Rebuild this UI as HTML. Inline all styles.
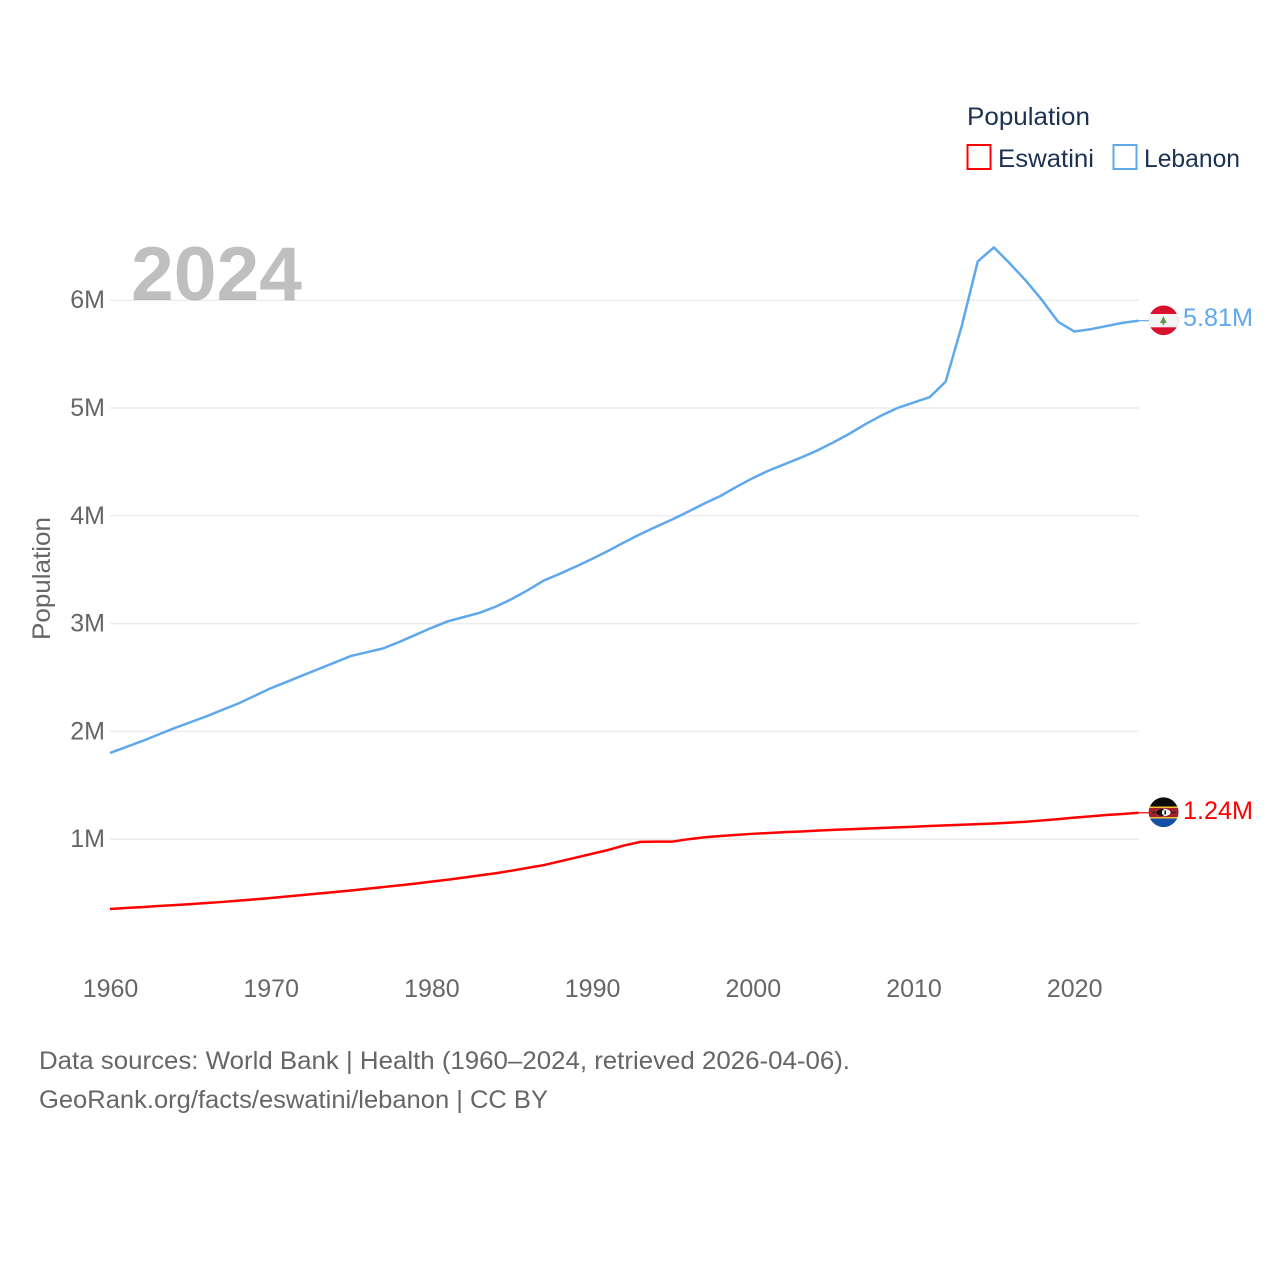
<!DOCTYPE html>
<html lang="en">
<head>
<meta charset="utf-8">
<title>Population: Eswatini and Lebanon</title>
<style>
html,body{margin:0;padding:0;background:#fff;width:1280px;height:1280px;overflow:hidden}
svg{display:block}
text{font-family:"Liberation Sans",sans-serif}
</style>
</head>
<body>
<svg id="chart" xmlns="http://www.w3.org/2000/svg" width="1280" height="1280" viewBox="0 0 1280 1280">
  <rect x="0" y="0" width="1280" height="1280" fill="#ffffff"/>
  <g id="grid"></g>
  <g id="yticks"></g>
  <g id="xticks"></g>
  <text x="131" y="300" font-size="76" font-weight="700" fill="#bfbfbf" textLength="171" lengthAdjust="spacingAndGlyphs" style="mix-blend-mode:multiply">2024</text>
  <text transform="translate(50,640) rotate(-90)" font-size="25" fill="#666666" textLength="123" lengthAdjust="spacingAndGlyphs">Population</text>
  <g id="series"></g>

  <g>
    <clipPath id="clip-lb"><circle cx="1163.600" cy="320.300" r="14.800"/></clipPath>
    <g clip-path="url(#clip-lb)">
      <rect x="1148" y="304" width="32" height="33" fill="#d8112f"/>
      <rect x="1148" y="314" width="32" height="13.300" fill="#f4f4f4"/>
      <path d="M1163.400 316l3.400 7h-2.600v2h-1.600v-2h-2.600z" fill="#5f9e4d"/>
    </g>
  </g>
  <g>
    <clipPath id="clip-sz"><circle cx="1163.600" cy="812.200" r="14.800"/></clipPath>
    <g clip-path="url(#clip-sz)">
      <rect x="1148" y="796" width="32" height="33" fill="#0b0b0b"/>
      <rect x="1148" y="806.500" width="32" height="1.500" fill="#f2c230"/>
      <rect x="1148" y="808" width="32" height="9" fill="#a5202c"/>
      <rect x="1148" y="817" width="32" height="1.500" fill="#f2c230"/>
      <rect x="1148" y="818.500" width="32" height="10.500" fill="#1450a8"/>
      <rect x="1152" y="811.800" width="24" height="1.400" fill="#2a2a2a"/>
      <ellipse cx="1163.500" cy="812.500" rx="7" ry="3.800" fill="#f5f5f5"/>
      <path d="M1163.500 808.700a7 3.800 0 0 0 0 7.600z" fill="#111111"/>
      <rect x="1162" y="810.500" width="1.500" height="4" fill="#f5f5f5"/>
      <rect x="1164.500" y="810.500" width="1.500" height="4" fill="#111111"/>
    </g>
  </g>
  <text x="1183" y="326" font-size="25" fill="#5fa8ec" textLength="70" lengthAdjust="spacingAndGlyphs">5.81M</text>
  <text x="1183" y="819" font-size="25" fill="#ff0000" textLength="70" lengthAdjust="spacingAndGlyphs">1.24M</text>

  <g>
    <text x="967" y="125" font-size="25" fill="#1b3252" textLength="123" lengthAdjust="spacingAndGlyphs">Population</text>
    <rect x="967.500" y="145" width="23" height="24" fill="none" stroke="#ff0000" stroke-width="2"/>
    <text x="998" y="167" font-size="25" fill="#1b3252" textLength="96" lengthAdjust="spacingAndGlyphs">Eswatini</text>
    <rect x="1113.500" y="145" width="23" height="24" fill="none" stroke="#5fa8ec" stroke-width="2"/>
    <text x="1144" y="167" font-size="25" fill="#1b3252" textLength="96" lengthAdjust="spacingAndGlyphs">Lebanon</text>
  </g>

  <text x="39" y="1069" font-size="25" fill="#666666" textLength="811" lengthAdjust="spacingAndGlyphs">Data sources: World Bank | Health (1960–2024, retrieved 2026-04-06).</text>
  <text x="39" y="1108" font-size="25" fill="#666666" textLength="509" lengthAdjust="spacingAndGlyphs">GeoRank.org/facts/eswatini/lebanon | CC BY</text>
</svg>
<script>
const startYear = 1960;
const yTickValues = [1, 2, 3, 4, 5, 6];
const yTickLabels = ['1M', '2M', '3M', '4M', '5M', '6M'];
const xTickValues = [1960, 1970, 1980, 1990, 2000, 2010, 2020];
const xTickLabels = ['1960', '1970', '1980', '1990', '2000', '2010', '2020'];
const lebanonValues = [1.80,1.855,1.91,1.97,2.03,2.085,2.14,2.20,2.26,2.33,
  2.40,2.46,2.52,2.58,2.64,2.70,2.735,2.77,2.83,2.895,
  2.96,3.02,3.06,3.10,3.157,3.228,3.31,3.40,3.463,3.53,
  3.60,3.675,3.754,3.83,3.90,3.967,4.04,4.115,4.185,4.27,
  4.35,4.42,4.48,4.54,4.605,4.68,4.76,4.85,4.93,5.00,
  5.05,5.10,5.244,5.76,6.36,6.49,6.34,6.18,6.00,5.80,
  5.71,5.73,5.76,5.79,5.81];
const eswatiniValues = [0.352,0.362,0.370,0.380,0.388,0.398,0.408,0.418,0.430,0.442,
  0.455,0.468,0.482,0.496,0.510,0.524,0.540,0.556,0.572,0.588,
  0.606,0.624,0.644,0.664,0.684,0.708,0.734,0.760,0.795,0.830,
  0.865,0.900,0.942,0.975,0.978,0.978,1.000,1.018,1.030,1.040,
  1.050,1.058,1.066,1.072,1.080,1.086,1.092,1.098,1.104,1.110,
  1.116,1.122,1.128,1.134,1.140,1.146,1.154,1.162,1.174,1.186,
  1.200,1.212,1.224,1.234,1.245];

const SVG_NS = 'http://www.w3.org/2000/svg';
const xScale = function (year) { return 110 + (year - 1960) * 16.07; };
const yScale = function (value) { return 947 - value * 107.8; };

const gridGroup = document.getElementById('grid');
const yTickGroup = document.getElementById('yticks');
yTickValues.forEach(function (value, i) {
  const line = document.createElementNS(SVG_NS, 'line');
  
  
  line.setAttribute('x1', 110);
  line.setAttribute('x2', 1139);
  line.setAttribute('y1', yScale(value));
  line.setAttribute('y2', yScale(value));
  line.setAttribute('stroke', '#ececec');
  line.setAttribute('stroke-width', 1.5);
  gridGroup.appendChild(line);

  const label = document.createElementNS(SVG_NS, 'text');
  
  
  label.setAttribute('x', 105);
  label.setAttribute('y', yScale(value) + 8);
  label.setAttribute('text-anchor', 'end');
  label.setAttribute('font-size', 25);
  label.setAttribute('fill', '#666666');
  label.textContent = yTickLabels[i];
  yTickGroup.appendChild(label);
});

const xTickGroup = document.getElementById('xticks');
xTickValues.forEach(function (year, i) {
  const label = document.createElementNS(SVG_NS, 'text');
  
  
  label.setAttribute('x', xScale(year) + 0.5);
  label.setAttribute('y', 997);
  label.setAttribute('text-anchor', 'middle');
  label.setAttribute('font-size', 25);
  label.setAttribute('fill', '#666666');
  label.textContent = xTickLabels[i];
  xTickGroup.appendChild(label);
});

const seriesGroup = document.getElementById('series');
function toPoints(values) {
  return values.map(function (value, i) {
    return xScale(startYear + i).toFixed(2) + ',' + yScale(value).toFixed(2);
  }).join(' ');
}

const eswatiniLine = document.createElementNS(SVG_NS, 'polyline');


eswatiniLine.setAttribute('points', toPoints(eswatiniValues));
eswatiniLine.setAttribute('fill', 'none');
eswatiniLine.setAttribute('stroke', '#ff0000');
eswatiniLine.setAttribute('stroke-width', 2.5);
eswatiniLine.setAttribute('stroke-linejoin', 'round');
seriesGroup.appendChild(eswatiniLine);

const lebanonLine = document.createElementNS(SVG_NS, 'polyline');


lebanonLine.setAttribute('points', toPoints(lebanonValues));
lebanonLine.setAttribute('fill', 'none');
lebanonLine.setAttribute('stroke', '#5fa8ec');
lebanonLine.setAttribute('stroke-width', 2.5);
lebanonLine.setAttribute('stroke-linejoin', 'round');
seriesGroup.appendChild(lebanonLine);

const lastYearX = xScale(startYear + lebanonValues.length - 1);

const lebanonConnector = document.createElementNS(SVG_NS, 'line');


lebanonConnector.setAttribute('x1', lastYearX);
lebanonConnector.setAttribute('x2', 1149);
lebanonConnector.setAttribute('y1', yScale(lebanonValues[lebanonValues.length - 1]));
lebanonConnector.setAttribute('y2', yScale(lebanonValues[lebanonValues.length - 1]));
lebanonConnector.setAttribute('stroke', '#5fa8ec');
lebanonConnector.setAttribute('stroke-width', 1.2);
seriesGroup.appendChild(lebanonConnector);

const eswatiniConnector = document.createElementNS(SVG_NS, 'line');


eswatiniConnector.setAttribute('x1', lastYearX);
eswatiniConnector.setAttribute('x2', 1149);
eswatiniConnector.setAttribute('y1', yScale(eswatiniValues[eswatiniValues.length - 1]));
eswatiniConnector.setAttribute('y2', yScale(eswatiniValues[eswatiniValues.length - 1]));
eswatiniConnector.setAttribute('stroke', '#ff0000');
eswatiniConnector.setAttribute('stroke-width', 1.2);
seriesGroup.appendChild(eswatiniConnector);
</script>
</body>
</html>
